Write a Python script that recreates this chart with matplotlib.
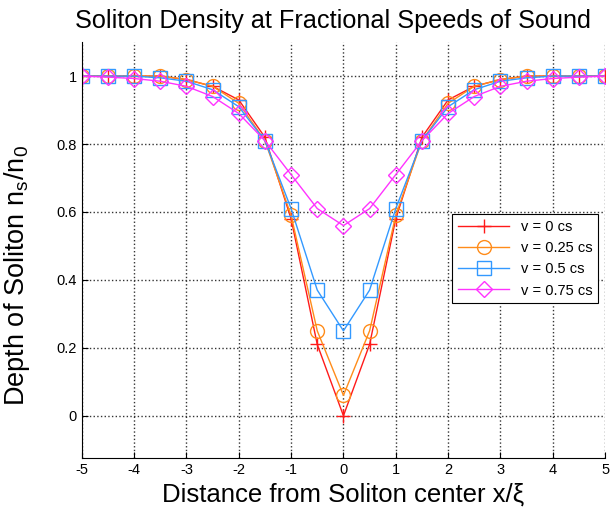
import matplotlib
matplotlib.use("Agg")
import matplotlib.pyplot as plt
from matplotlib.ticker import FuncFormatter

plt.rcParams['font.family'] = ['Liberation Sans', 'DejaVu Sans']
plt.rcParams['axes.unicode_minus'] = False
plt.rcParams['mathtext.fontset'] = 'custom'
plt.rcParams['mathtext.rm'] = 'Liberation Sans'
plt.rcParams['mathtext.it'] = 'Liberation Sans'

x = [-5, -4.5, -4, -3.5, -3, -2.5, -2, -1.5, -1, -0.5, 0,
     0.5, 1, 1.5, 2, 2.5, 3, 3.5, 4, 4.5, 5]

half_v0 = [0.0, 0.21, 0.58, 0.82, 0.93, 0.97, 0.99, 1.0, 1.0, 1.0, 1.0]
half_v25 = [0.06, 0.25, 0.59, 0.81, 0.92, 0.97, 0.99, 1.0, 1.0, 1.0, 1.0]
half_v50 = [0.25, 0.37, 0.61, 0.81, 0.91, 0.96, 0.985, 0.995, 1.0, 1.0, 1.0]
half_v75 = [0.56, 0.61, 0.71, 0.81, 0.89, 0.94, 0.97, 0.985, 0.993, 0.997, 1.0]

def mirror(h):
    return h[::-1] + h[1:]

series = [
    ("v = 0 cs", mirror(half_v0), "#FF1A1A", "+"),
    ("v = 0.25 cs", mirror(half_v25), "#FF8C1A", "o"),
    ("v = 0.5 cs", mirror(half_v50), "#3399FF", "s"),
    ("v = 0.75 cs", mirror(half_v75), "#FF33FF", "D"),
]

fig = plt.figure(figsize=(6.1, 5.08), dpi=100)
ax = fig.add_axes([0.134, 0.098, 0.858, 0.819])

for label, y, c, m in series:
    ms = 10 if m != "D" else 8
    ax.plot(x, y, color=c, marker=m, markersize=ms, markerfacecolor='none',
            markeredgecolor=c, markeredgewidth=1.0, linewidth=1.0, label=label)

ax.set_xlim(-5, 5)
ax.set_ylim(-0.125, 1.1)
ax.set_xticks(range(-5, 6))
ax.set_yticks([0, 0.2, 0.4, 0.6, 0.8, 1.0])
ax.yaxis.set_major_formatter(FuncFormatter(lambda v, p: "%g" % round(v, 2)))
ax.tick_params(direction='in', labelsize=10.5, length=4)
ax.grid(True, linestyle=':', color='#333333', linewidth=1.0)
ax.spines['top'].set_visible(False)
ax.spines['right'].set_visible(False)

ax.set_title("Soliton Density at Fractional Speeds of Sound", fontsize=18.2, pad=10,
             x=0.48)
ax.set_xlabel("Distance from Soliton center x/ξ", fontsize=18.5, labelpad=4)
ax.set_ylabel("Depth of Soliton n$_{\\mathrm{s}}$/n$_{\\mathrm{0}}$", fontsize=19.5)
ax.yaxis.set_label_coords(-0.095, 0.44)

leg = ax.legend(loc='upper left', bbox_to_anchor=(0.694, 0.605), fontsize=10.5,
                fancybox=False, edgecolor='black', framealpha=1,
                handlelength=3.5, borderpad=0.4, labelspacing=0.5)
leg.get_frame().set_linewidth(0.8)

fig.savefig("out.png", dpi=100)
